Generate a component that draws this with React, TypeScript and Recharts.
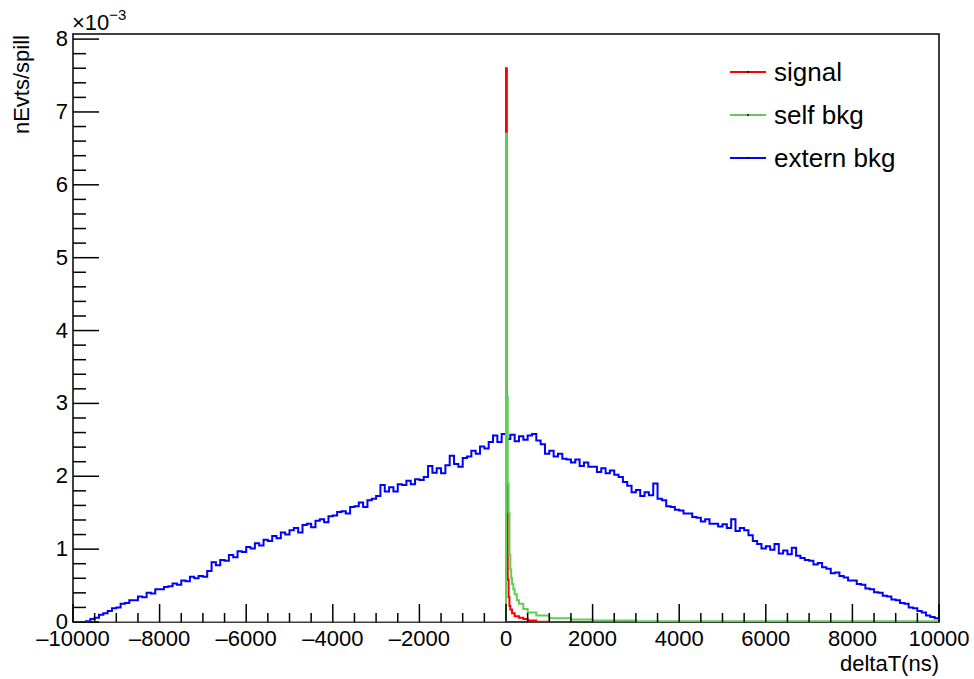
import React from 'react';
import { LineChart, Line, XAxis, YAxis, ReferenceArea, Legend } from 'recharts';

const FONT = '"Liberation Sans", Arial, Helvetica, sans-serif';

// deltaT in ns, rates in units of 1e-3 nEvts/spill
const X_RANGE: [number, number] = [-10000, 10000];
const Y_RANGE: [number, number] = [0, 8.07];

const X_LABELS = [-10000, -8000, -6000, -4000, -2000, 0, 2000, 4000, 6000, 8000, 10000];
const Y_LABELS = [0, 1, 2, 3, 4, 5, 6, 7, 8];

// extern bkg: 100 ns bins starting at -10000
const EXTERN_START = -10000;
const EXTERN_BIN = 100;
const externBkg = [
  0, 0, 0, 0.01, 0.04, 0.06, 0.10, 0.12, 0.15, 0.19,
  0.20, 0.25, 0.26, 0.30, 0.30, 0.35, 0.34, 0.40, 0.39, 0.45,
  0.45, 0.48, 0.49, 0.53, 0.51, 0.57, 0.56, 0.62, 0.60, 0.63,
  0.62, 0.70, 0.82, 0.78, 0.85, 0.84, 0.92, 0.89, 0.97, 0.96,
  1.03, 1.01, 1.08, 1.05, 1.13, 1.11, 1.18, 1.15, 1.23, 1.20,
  1.26, 1.29, 1.23, 1.33, 1.35, 1.30, 1.39, 1.41, 1.37, 1.45,
  1.46, 1.51, 1.52, 1.49, 1.58, 1.59, 1.64, 1.58, 1.67, 1.69,
  1.73, 1.88, 1.79, 1.85, 1.79, 1.89, 1.88, 1.94, 1.89, 1.96,
  1.95, 1.99, 2.14, 2.05, 2.11, 2.04, 2.15, 2.28, 2.17, 2.13,
  2.25, 2.27, 2.35, 2.31, 2.41, 2.38, 2.47, 2.56, 2.47, 2.58,
  2.51, 2.57, 2.48, 2.55, 2.50, 2.56, 2.58, 2.49, 2.44, 2.31,
  2.35, 2.27, 2.31, 2.24, 2.23, 2.19, 2.23, 2.14, 2.19, 2.13,
  2.13, 2.06, 2.11, 2.04, 2.08, 2.02, 1.99, 1.92, 1.87, 1.78,
  1.81, 1.73, 1.78, 1.74, 1.90, 1.69, 1.67, 1.59, 1.58, 1.54,
  1.53, 1.49, 1.49, 1.44, 1.43, 1.38, 1.41, 1.35, 1.35, 1.31,
  1.34, 1.29, 1.41, 1.25, 1.29, 1.26, 1.19, 1.11, 1.07, 1.01,
  1.04, 0.99, 1.07, 0.94, 0.98, 0.93, 1.02, 0.91, 0.88, 0.85,
  0.84, 0.79, 0.81, 0.75, 0.73, 0.67, 0.68, 0.63, 0.61, 0.57,
  0.57, 0.52, 0.51, 0.46, 0.45, 0.41, 0.40, 0.36, 0.35, 0.31,
  0.30, 0.26, 0.25, 0.20, 0.19, 0.15, 0.13, 0.09, 0.07, 0.05,
];

// signal and self bkg use finer bins around the prompt peak
const signalEdges = [-10000, 0, 20, 40, 60, 80, 100, 140, 200, 300, 400, 500, 700, 1000, 10000];
const signalValues = [0, 7.6, 1.5, 0.58, 0.34, 0.22, 0.17, 0.12, 0.08, 0.06, 0.04, 0.02, 0.005, 0];

const selfEdges = [-10000, 0, 20, 40, 60, 80, 100, 120, 140, 170, 200, 250, 300, 400, 500, 700, 1000, 1500, 2000, 3000, 10000];
const selfValues = [0, 6.7, 3.1, 1.9, 1.5, 0.92, 0.72, 0.6, 0.52, 0.45, 0.38, 0.3, 0.25, 0.18, 0.13, 0.09, 0.05, 0.035, 0.02, 0.01];

const LEGEND_ORDER = ['signal', 'self bkg', 'extern bkg'];

type Pt = { x: number; y: number };

function toSteps(edges: number[], values: number[]): Pt[] {
  const pts = values.map((v, i) => ({ x: edges[i], y: v }));
  pts.push({ x: edges[edges.length - 1], y: values[values.length - 1] });
  return pts;
}

const externEdges = [...externBkg.map((_, i) => EXTERN_START + i * EXTERN_BIN), X_RANGE[1]];
const externData = toSteps(externEdges, externBkg);
const signalData = toSteps(signalEdges, signalValues);
const selfData = toSteps(selfEdges, selfValues);

// major ticks every 2000 with 4 divisions, y major every 1 with 5 divisions
const xTicks: number[] = [];
for (let v = X_RANGE[0]; v <= X_RANGE[1]; v += 500) xTicks.push(v);
const yTicks: number[] = [];
for (let k = 0; k <= 40; k++) yTicks.push(k / 5);

const fmtX = (v: number) => (v < 0 ? '\u2013' + Math.abs(v) : String(v));

function XTick(props: any) {
  const { x, y, payload } = props;
  const v = payload.value as number;
  const major = X_LABELS.includes(v);
  return (
    <g>
      <line x1={x} x2={x} y1={y} y2={y - (major ? 18 : 9)} stroke="#000" strokeWidth={1.5} />
      {major && (
        <text x={x} y={y + 24} textAnchor="middle" fontSize={22} fontFamily={FONT} fill="#000">
          {fmtX(v)}
        </text>
      )}
    </g>
  );
}

function YTick(props: any) {
  const { x, y, payload } = props;
  const v = payload.value as number;
  const major = Y_LABELS.some((m) => Math.abs(m - v) < 1e-6);
  return (
    <g>
      <line x1={x} x2={x + (major ? 26 : 13)} y1={y} y2={y} stroke="#000" strokeWidth={1.5} />
      {major && (
        <text x={x - 5} y={y + 7} textAnchor="end" fontSize={22} fontFamily={FONT} fill="#000">
          {Math.round(v)}
        </text>
      )}
    </g>
  );
}

function LegendBox(props: any) {
  const payload: any[] = props.payload || [];
  const items = LEGEND_ORDER.map((n) => payload.find((p) => p.value === n)).filter(Boolean);
  return (
    <svg width={974} height={679} style={{ position: 'absolute', left: 0, top: 0 }}>
      {items.map((item: any, i: number) => {
        const y = 72 + i * 43;
        return (
          <g key={item.value}>
            <line x1={730} x2={766} y1={y} y2={y} stroke={item.color} strokeWidth={2} />
            <circle cx={748} cy={y} r={1} fill="#000" />
            <text x={774} y={y + 9} fontSize={26} fontFamily={FONT} fill="#000">
              {item.value}
            </text>
          </g>
        );
      })}
    </svg>
  );
}

export default function App() {
  return (
    <div style={{ position: 'relative', width: 974, height: 679, background: '#fff' }}>
      <style>{'body{margin:0}'}</style>
      <LineChart width={974} height={679} margin={{ top: 34, right: 35, left: 0, bottom: 0 }}>
        <XAxis
          dataKey="x"
          type="number"
          domain={X_RANGE}
          allowDataOverflow
          ticks={xTicks}
          interval={0}
          height={57}
          tickSize={0}
          tickMargin={0}
          axisLine={false}
          tick={<XTick />}
          label={{
            content: () => (
              <text x={939} y={671} textAnchor="end" fontSize={22} fontFamily={FONT} fill="#000">
                deltaT(ns)
              </text>
            ),
          }}
        />
        <YAxis
          type="number"
          domain={Y_RANGE}
          allowDataOverflow
          ticks={yTicks}
          interval={0}
          width={73}
          tickSize={0}
          tickMargin={0}
          axisLine={false}
          tick={<YTick />}
          label={{
            content: () => (
              <g fontFamily={FONT} fill="#000">
                <text x={29} y={35} transform="rotate(-90 29 35)" textAnchor="end" fontSize={22}>
                  nEvts/spill
                </text>
                <text x={72} y={30} fontSize={22}>
                  ×10
                  <tspan fontSize={15} dy={-10}>
                    {'\u2212'}3
                  </tspan>
                </text>
              </g>
            ),
          }}
        />
        <ReferenceArea
          x1={X_RANGE[0]}
          x2={X_RANGE[1]}
          y1={Y_RANGE[0]}
          y2={Y_RANGE[1]}
          fill="none"
          stroke="#000"
          strokeWidth={1.5}
        />
        <Line
          data={externData}
          dataKey="y"
          name="extern bkg"
          type="stepAfter"
          stroke="#0000ff"
          strokeWidth={2}
          dot={false}
          activeDot={false}
          isAnimationActive={false}
        />
        <Line
          data={signalData}
          dataKey="y"
          name="signal"
          type="stepAfter"
          stroke="#ff0000"
          strokeWidth={2}
          dot={false}
          activeDot={false}
          isAnimationActive={false}
        />
        <Line
          data={selfData}
          dataKey="y"
          name="self bkg"
          type="stepAfter"
          stroke="#5fcf54"
          strokeWidth={2}
          dot={false}
          activeDot={false}
          isAnimationActive={false}
        />
        <Legend
          content={<LegendBox />}
          layout="horizontal"
          verticalAlign="middle"
          align="center"
          wrapperStyle={{ position: 'absolute', left: 0, top: 0, width: 974, height: 679, pointerEvents: 'none' }}
        />
      </LineChart>
    </div>
  );
}
